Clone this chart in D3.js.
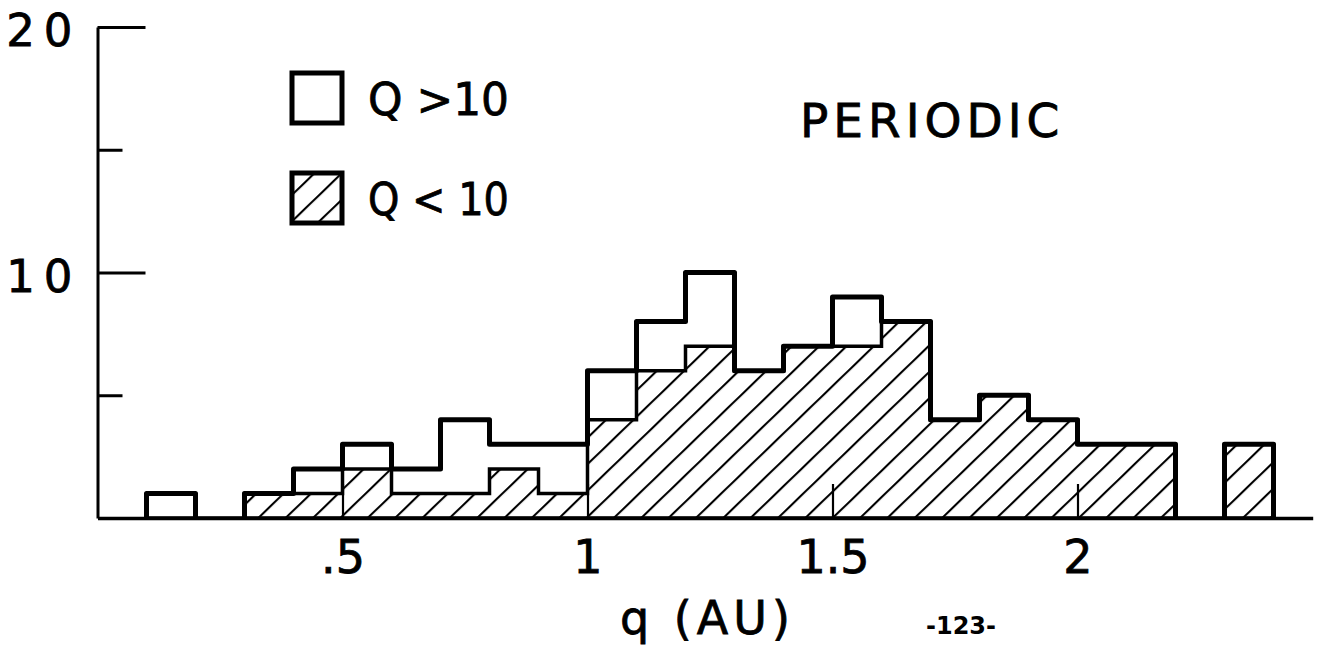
<!DOCTYPE html>
<html>
<head>
<meta charset="utf-8">
<script src="https://cdn.jsdelivr.net/npm/d3@7"></script>
<style>
html,body{margin:0;padding:0;background:#fff;}
svg{display:block;}
text{font-family:"DejaVu Sans",sans-serif;fill:#000;}
.heavy{stroke:#000;stroke-width:0.8px;}
</style>
</head>
<body>
<svg id="chart" width="1336" height="647"></svg>
<script>
// ---- data ----
const binStarts = [0.1,0.2,0.3,0.4,0.5,0.6,0.7,0.8,0.9,1.0,1.1,1.2,1.3,1.4,1.5,1.6,1.7,1.8,1.9,2.0,2.1,2.2,2.3];
const binWidth = 0.1;
const qLess10    = [0,0,1,1,2,1,1,2,1,4,6,7,6,7,7,8,4,5,4,3,3,0,3];
const qGreater10 = [1,0,0,1,1,1,3,1,2,2,2,3,0,0,2,0,0,0,0,0,0,0,0];
const xTickValues = [0.5,1,1.5,2];
const xTickLabels = [".5","1","1.5","2"];
const yMajorTicks = [10,20];
const yMajorLabels = ["10","20"];
const yMinorTicks = [5,15];
const legendLabels = ["Q >10","Q < 10"];
const titleText = "PERIODIC";
const xTitle = "q (AU)";
const pageNumber = "-123-";

// ---- setup ----
const svg = d3.select("#chart");
const x = d3.scaleLinear().domain([0, 2.48]).range([97.5, 1312.7]);
const y = d3.scaleLinear().domain([0, 20]).range([518, 27]);

const defs = svg.append("defs");
const pat = defs.append("pattern")
  .attr("id","hatch").attr("patternUnits","userSpaceOnUse")
  .attr("width",19).attr("height",19)
  .attr("patternTransform","rotate(46)");
pat.append("rect").attr("width",19).attr("height",19).attr("fill","#fff");
pat.append("line").attr("x1",1).attr("y1",0).attr("x2",1).attr("y2",19)
  .attr("stroke","#000").attr("stroke-width",2.2);

const total = binStarts.map((b,i)=>qLess10[i]+qGreater10[i]);
const last = binStarts.length-1;
const endEdge = binStarts[last]+binWidth;

// hatched (Q<10) area
const hatchPts = binStarts.map((b,i)=>[b, qLess10[i]]).concat([[endEdge, qLess10[last]]]);
const area = d3.area().x(d=>x(d[0])).y0(y(0)).y1(d=>y(d[1])).curve(d3.curveStepAfter);
svg.append("path").datum(hatchPts).attr("d",area)
  .attr("fill","url(#hatch)").attr("stroke","#000").attr("stroke-width",3.5)
  .attr("stroke-linejoin","miter");

// x axis
const xAxis = d3.axisBottom(x).tickValues(xTickValues)
  .tickSizeInner(-34).tickSizeOuter(0).tickPadding(22)
  .tickFormat((d,i)=>xTickLabels[i]);
const gx = svg.append("g").attr("transform",`translate(0,${y(0)})`).call(xAxis);
gx.select(".domain").attr("stroke","#000").attr("stroke-width",3.5);
gx.selectAll(".tick line").attr("stroke","#000").attr("stroke-width",2.2);
gx.selectAll(".tick text").attr("font-size",46).attr("dy","0.71em")
  .attr("font-family","DejaVu Sans").attr("fill","#000").attr("class","heavy");

// total outline, drawn as contiguous runs of non-empty bins
const runs = [];
let cur = null;
binStarts.forEach((b,i)=>{
  if (total[i] > 0) {
    if (!cur) { cur = [[b,0]]; runs.push(cur); }
    cur.push([b,total[i]]);
    const nextEmpty = (i===last) || total[i+1]===0;
    if (nextEmpty) { cur.push([b+binWidth,total[i]]); cur.push([b+binWidth,0]); cur = null; }
  }
});
const line = d3.line().x(d=>x(d[0])).y(d=>y(d[1])).curve(d3.curveStepAfter);
svg.selectAll("path.outline").data(runs).join("path").attr("class","outline")
  .attr("d",line).attr("fill","none").attr("stroke","#000").attr("stroke-width",5)
  .attr("stroke-linejoin","round");

// y axis
const yAxisMajor = d3.axisLeft(y).tickValues(yMajorTicks)
  .tickSizeInner(-48).tickSizeOuter(0).tickPadding(16)
  .tickFormat((d,i)=>yMajorLabels[i]);
const gy = svg.append("g").attr("transform",`translate(${x(0)},0)`).call(yAxisMajor);
gy.select(".domain").attr("stroke","#000").attr("stroke-width",3);
gy.selectAll(".tick line").attr("stroke","#000").attr("stroke-width",3);
gy.selectAll(".tick text").attr("font-size",45).attr("letter-spacing",9)
  .attr("dy","0.42em").attr("font-family","DejaVu Sans").attr("fill","#000").attr("class","heavy");
const yAxisMinor = d3.axisLeft(y).tickValues(yMinorTicks)
  .tickSizeInner(-25).tickSizeOuter(0).tickFormat("");
const gy2 = svg.append("g").attr("transform",`translate(${x(0)},0)`).call(yAxisMinor);
gy2.select(".domain").remove();
gy2.selectAll(".tick line").attr("stroke","#000").attr("stroke-width",3);

// legend
const leg = svg.append("g");
const legFills = ["#fff","url(#hatch)"];
legendLabels.forEach((lab,i)=>{
  const top = 73 + i*100;
  leg.append("rect").attr("x",292).attr("y",top).attr("width",50).attr("height",50)
    .attr("fill",legFills[i]).attr("stroke","#000").attr("stroke-width",5);
  leg.append("text").attr("x",368).attr("y",top+42).attr("font-size",45)
    .attr("class","heavy")
    .attr("textLength",141).attr("lengthAdjust","spacingAndGlyphs").text(lab);
});

// titles
svg.append("text").attr("x",800).attr("y",137).attr("font-size",47)
  .attr("class","heavy").attr("letter-spacing",5).text(titleText);
svg.append("text").attr("x",620).attr("y",634).attr("font-size",46)
  .attr("class","heavy").attr("letter-spacing",5).text(xTitle);
svg.append("text").attr("x",926).attr("y",634).attr("font-size",24)
  .attr("font-family","DejaVu Sans Mono").attr("font-weight","bold").text(pageNumber);
</script>
</body>
</html>
